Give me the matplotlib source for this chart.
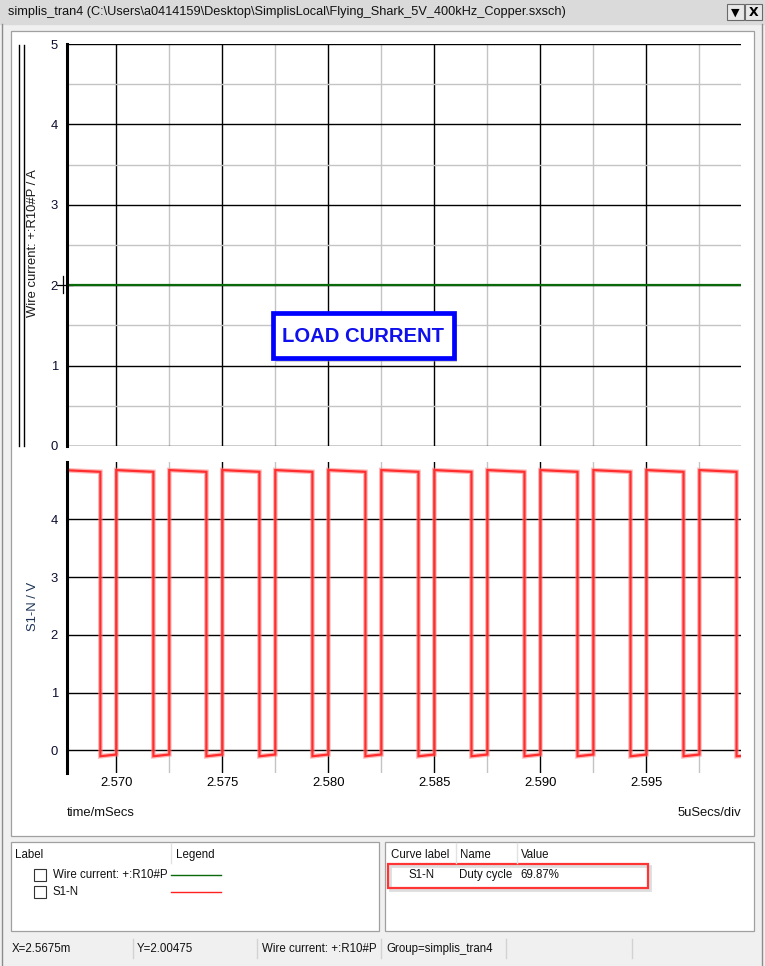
"""
SIMPLIS waveform viewer screenshot: load current (top) and S1-N switch node (bottom).
"""

import matplotlib.pyplot as plt
from matplotlib.patches import Rectangle
from matplotlib.ticker import MultipleLocator, FormatStrFormatter

W, H = 765, 966
FONT = "Liberation Sans"

# time axis (mSecs)
T_LEFT, T_RIGHT = 2.567676, 2.59946
T_START, T_END = 2.5675, 2.5995

# load current: flat 2 A
CURRENT_T = [2.5675, 2.5995]
CURRENT_A = [2.0, 2.0]

# S1-N switching edges (400 kHz, 69.87 % duty)
RISE_T = [2.5700, 2.5725, 2.5750, 2.5775, 2.5800, 2.5825,
          2.5850, 2.5875, 2.5900, 2.5925, 2.5950, 2.5975]
FALL_T = [2.56925, 2.57175, 2.57425, 2.57675, 2.57925, 2.58175, 2.58425,
          2.58675, 2.58925, 2.59175, 2.59425, 2.59675, 2.59925]
V_HIGH = (4.85, 4.82)   # level at start / end of each on-phase
V_LOW = (-0.10, -0.07)  # level at start / end of each off-phase

TITLE = r"simplis_tran4 (C:\Users\a0414159\Desktop\SimplisLocal\Flying_Shark_5V_400kHz_Copper.sxsch)"
STATUS = [(12, "X=2.5675m"), (137, "Y=2.00475"), (262, "Wire current: +:R10#P"),
          (386, "Group=simplis_tran4")]
STATUS_SEPS = [133, 257, 381, 506, 632]


def frac(x0, y0, x1, y1):
    """pixel box (top-left origin) -> figure fraction rect"""
    return [x0 / W, 1 - y1 / H, (x1 - x0) / W, (y1 - y0) / H]


def switch_trace():
    edges = sorted([(t, "f") for t in FALL_T] + [(t, "r") for t in RISE_T])
    ts, vs = [T_START], [V_HIGH[0]]
    for t, kind in edges:
        ts += [t, t]
        if kind == "f":
            vs += [V_HIGH[1], V_LOW[0]]
        else:
            vs += [V_LOW[1], V_HIGH[0]]
    ts.append(T_END)
    vs.append(V_LOW[0] + 0.005)
    return ts, vs


def style_axes(ax, ylim, y_minor):
    ax.set_facecolor("none")
    ax.set_xlim(T_LEFT, T_RIGHT)
    ax.set_ylim(*ylim)
    ax.xaxis.set_major_locator(MultipleLocator(0.005))
    ax.xaxis.set_minor_locator(MultipleLocator(0.0025))
    ax.xaxis.set_major_formatter(FormatStrFormatter("%.3f"))
    ax.yaxis.set_major_locator(MultipleLocator(1))
    if y_minor:
        ax.yaxis.set_minor_locator(MultipleLocator(0.5))
    ax.grid(which="major", color="black", lw=1.0)
    ax.grid(which="minor", color="#c4c4c4", lw=1.0)
    if not y_minor:
        ax.grid(which="minor", axis="y", visible=False)
    ax.set_axisbelow(True)
    for side in ("top", "right", "bottom"):
        ax.spines[side].set_visible(False)
    ax.spines["left"].set_linewidth(2.2)
    ax.tick_params(which="both", length=0, labelsize=9.4, pad=6.5,
                   labelcolor="#0c0c30")
    ax.tick_params(axis="x", pad=3, labelcolor="black")
    for lab in ax.get_xticklabels() + ax.get_yticklabels():
        lab.set_fontfamily(FONT)


def draw_chrome(bg):
    bg.set_xlim(0, W)
    bg.set_ylim(H, 0)
    bg.axis("off")
    bg.add_patch(Rectangle((0, 0), W, H, color="#f0f0f0"))
    bg.add_patch(Rectangle((0, 0), W, 24, color="#dadada"))
    bg.text(8, 12, TITLE, fontsize=9.2, family=FONT, va="center", ha="left",
            color="#111111")
    for x0, sym in [(727, "\u25bc"), (745, "X")]:
        bg.add_patch(Rectangle((x0, 4), 17, 16, fc="#e8e8e8", ec="#6a6a6a", lw=0.8))
        bg.text(x0 + 8.5, 12.5, sym, fontsize=9 if sym == "X" else 8,
                weight="bold", ha="center", va="center", family="DejaVu Sans")
    bg.plot([2.5, 2.5], [24, H], color="#8c8c8c", lw=1)
    bg.plot([762, 762], [24, H], color="#8c8c8c", lw=1)

    # panels
    bg.add_patch(Rectangle((11, 31), 743, 805, fc="white", ec="#a0a0a0", lw=0.9))
    bg.add_patch(Rectangle((11, 842), 368, 89, fc="white", ec="#a0a0a0", lw=0.9))
    bg.add_patch(Rectangle((385, 842), 369, 89, fc="white", ec="#a0a0a0", lw=0.9))

    # selected-curve marker and cursor on the top plot
    for x in (19.5, 24.5):
        bg.plot([x, x], [45, 446], color="black", lw=1)
    bg.plot([57, 72], [285, 285], color="black", lw=0.9)
    bg.plot([63, 63], [276, 293], color="black", lw=0.9)

    ui = dict(fontsize=8.3, family=FONT, va="center", ha="left", color="#111111")
    # legend panel
    bg.text(15, 855, "Label", **ui)
    bg.text(176, 855, "Legend", **ui)
    bg.plot([171, 171], [843, 863], color="#e2e2e2", lw=1)
    for y, name, col in [(875, "Wire current: +:R10#P", "#0a6a0a"), (892, "S1-N", "#ff2020")]:
        bg.add_patch(Rectangle((34.5, y - 6), 12, 12, fc="white", ec="#333333", lw=0.8))
        bg.text(53, y, name, **ui)
        bg.plot([171, 221], [y - 0.5, y - 0.5], color=col, lw=1)

    # measurement panel
    bg.text(391, 855, "Curve label", **ui)
    bg.text(460, 855, "Name", **ui)
    bg.text(521, 855, "Value", **ui)
    for x in (456, 517):
        bg.plot([x, x], [843, 863], color="#e2e2e2", lw=1)
    bg.add_patch(Rectangle((390, 866), 260, 24, fc="none", ec="#bdbdbd", lw=2, alpha=0.5))
    bg.add_patch(Rectangle((388, 864), 260, 23.5, fc="none", ec="#ff3535", lw=1.6))
    bg.text(409, 875, "S1-N", **ui)
    bg.text(459, 875, "Duty cycle", **ui)
    bg.text(520, 875, "69.87%", **ui)

    # status bar
    for x, s in STATUS:
        bg.text(x, 949, s, **ui)
    for x in STATUS_SEPS:
        bg.plot([x, x], [939, 958], color="#d2d2d2", lw=1)

    # axis captions
    bg.text(33, 243, "Wire current: +:R10#P / A", rotation=90, fontsize=9.4,
            family=FONT, ha="center", va="center", color="#1a1a1a")
    bg.text(33, 606, "S1-N / V", rotation=90, fontsize=9.4, family=FONT,
            ha="center", va="center", color="#1c3356")
    bg.text(67, 813, "time/mSecs", fontsize=9.4, family=FONT, ha="left",
            va="center", color="#111111")
    bg.text(741, 813, "5uSecs/div", fontsize=9.4, family=FONT, ha="right",
            va="center", color="#111111")


def draw_annotation(ov):
    ov.set_xlim(0, W)
    ov.set_ylim(H, 0)
    ov.axis("off")
    ov.add_patch(Rectangle((276.5, 316.5), 181, 45, fc="#9a9a9a", ec="none", alpha=0.45))
    ov.add_patch(Rectangle((273.3, 313.3), 181, 45, fc="white", ec="#0000ff", lw=3.4))
    ov.text(363, 336, "LOAD CURRENT", fontsize=14.6, weight="bold", family=FONT,
            color="#1010ee", ha="center", va="center")


fig = plt.figure(figsize=(W / 100, H / 100), dpi=100)

bg = fig.add_axes([0, 0, 1, 1], zorder=0)
draw_chrome(bg)

ax_top = fig.add_axes(frac(67, 43.6, 741, 446.4), zorder=1)
style_axes(ax_top, (-0.005, 5.005), y_minor=True)
ax_top.tick_params(axis="x", labelbottom=False)
ax_top.plot(CURRENT_T, CURRENT_A, color="#0a6a0a", lw=1.6)

ax_bot = fig.add_axes(frac(67, 462, 741, 773), zorder=1)
style_axes(ax_bot, (-0.39, 4.99), y_minor=False)
ts, vs = switch_trace()
ax_bot.plot(ts, vs, color="#ff8080", lw=3.4, alpha=0.55, solid_joinstyle="miter")
ax_bot.plot(ts, vs, color="#ff2d2d", lw=1.6, solid_joinstyle="miter")

ov = fig.add_axes([0, 0, 1, 1], zorder=2)
ov.set_facecolor("none")
draw_annotation(ov)

fig.savefig("out.png", dpi=100)
